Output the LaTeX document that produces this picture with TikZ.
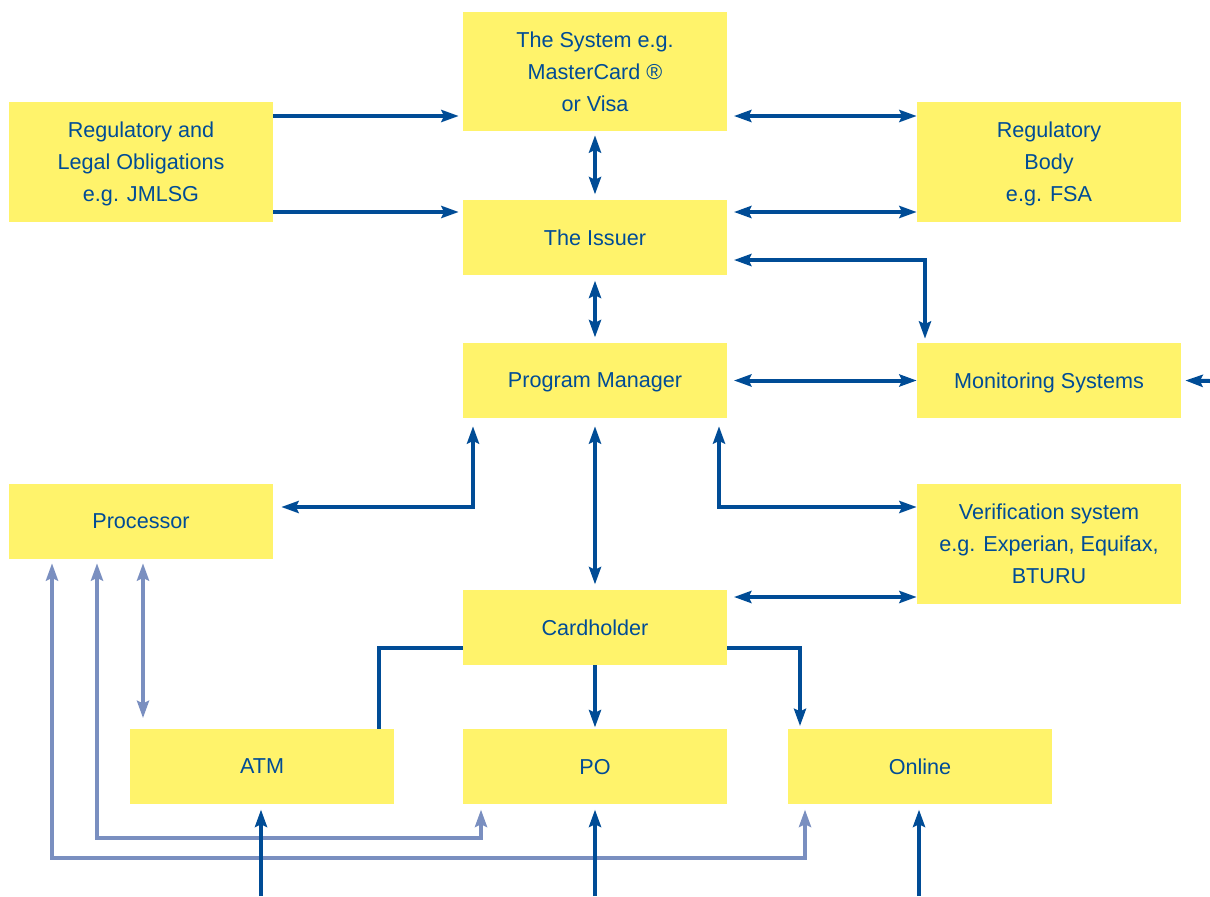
\documentclass[tikz,border=0pt]{standalone}
\usepackage{fontspec}
\setmainfont{Liberation Sans}
\usetikzlibrary{arrows.meta}
\definecolor{dblue}{RGB}{0,76,150}
\definecolor{lblue}{RGB}{122,143,192}
\definecolor{ybox}{RGB}{255,243,107}
\begin{document}
\begin{tikzpicture}[x=0.75pt,y=-0.75pt,
  box/.style={fill=ybox,draw=none,text=dblue,align=center,inner sep=0pt,text depth=0pt,
    font=\fontsize{16.2pt}{24pt}\selectfont},
  ar/.style={draw=dblue,line width=3pt,-{Stealth[length=13pt,width=9pt,inset=2pt]}},
  dar/.style={draw=dblue,line width=3pt,{Stealth[length=13pt,width=9pt,inset=2pt]}-{Stealth[length=13pt,width=9pt,inset=2pt]}},
  ln/.style={draw=dblue,line width=3pt},
  lar/.style={draw=lblue,line width=3pt,-{Stealth[length=13pt,width=9pt,inset=2pt]}},
  ldar/.style={draw=lblue,line width=3pt,{Stealth[length=13pt,width=9pt,inset=2pt]}-{Stealth[length=13pt,width=9pt,inset=2pt]}}]
\useasboundingbox (0,0) rectangle (1210,896);
% boxes
\node[box,minimum width=198pt,minimum height=89.25pt] (sys) at (595,71.5) {The System e.g.\\MasterCard \textregistered\\or Visa};
\node[box,minimum width=198pt,minimum height=90pt] (reg) at (141,162) {Regulatory and\\Legal Obligations\\e.g. JMLSG};
\node[box,minimum width=198pt,minimum height=90pt] (body) at (1049,162) {Regulatory\\Body\\e.g. FSA};
\node[box,minimum width=198pt,minimum height=56.25pt] (iss) at (595,237.5) {The Issuer};
\node[box,minimum width=198pt,minimum height=56.25pt] (pm) at (595,380.5) {Program Manager};
\node[box,minimum width=198pt,minimum height=56.25pt] (mon) at (1049,380.5) {Monitoring Systems};
\node[box,minimum width=198pt,minimum height=56.25pt] (proc) at (141,521.5) {Processor};
\node[box,minimum width=198pt,minimum height=90pt] (ver) at (1049,544) {Verification system\\e.g. Experian, Equifax,\\BTURU};
\node[box,minimum width=198pt,minimum height=56.25pt] (card) at (595,627.5) {Cardholder};
\node[box,minimum width=198pt,minimum height=56.25pt] (atm) at (262,766.5) {ATM};
\node[box,minimum width=198pt,minimum height=56.25pt] (po) at (595,766.5) {PO};
\node[box,minimum width=198pt,minimum height=56.25pt] (onl) at (920,766.5) {Online};
% free ends
\coordinate (monin) at (1210,381);
\coordinate (atmin) at (261,896);
\coordinate (poin) at (595,896);
\coordinate (onlin) at (919,896);
% connectors
\draw[ar] (reg.east |- 0,116) -- ([xshift=-3pt]sys.west |- 0,116);
\draw[ar] (reg.east |- 0,212) -- ([xshift=-3pt]iss.west |- 0,212);
\draw[dar] ([xshift=5pt]sys.east |- 0,116) -- (body.west |- 0,116);
\draw[dar] ([yshift=-3pt]sys.south) -- ([yshift=4pt]iss.north);
\draw[dar] ([xshift=5pt]iss.east |- 0,212) -- (body.west |- 0,212);
\draw[dar] ([xshift=5pt]iss.east |- 0,260) -- (925,260) -- ([yshift=3pt]mon.north -| 925,0);
\draw[dar] ([yshift=-4pt]iss.south) -- ([yshift=4pt]pm.north);
\draw[dar] ([xshift=5pt]pm.east) -- (mon.west);
\draw[ar] (monin) -- ([xshift=3pt]mon.east);
\draw[dar] ([yshift=-6pt]pm.south -| 473,0) -- (473,507) -- ([xshift=6pt]proc.east |- 0,507);
\draw[dar] ([yshift=-6pt]pm.south -| 719,0) -- (719,507) -- (ver.west |- 0,507);
\draw[dar] ([yshift=-6pt]pm.south) -- ([yshift=4pt]card.north);
\draw[dar] ([xshift=5pt]card.east |- 0,597) -- (ver.west |- 0,597);
\draw[ln] (card.west |- 0,648) -- (379,648) -- (379,729);
\draw[ar] (card.south) -- ([yshift=1pt]po.north);
\draw[ar] (card.east |- 0,648) -- (800,648) -- ([yshift=2pt]onl.north -| 800,0);
\draw[ldar] ([yshift=-3pt]proc.south -| 143,0) -- ([yshift=8pt]atm.north -| 143,0);
\draw[lar] (481,838) -- (97,838) -- ([yshift=-3pt]proc.south -| 97,0);
\draw[lar] (97,838) -- (481,838) -- ([yshift=-4pt]po.south -| 481,0);
\draw[lar] (805,858) -- (52,858) -- ([yshift=-3pt]proc.south -| 52,0);
\draw[lar] (52,858) -- (805,858) -- ([yshift=-4pt]onl.south -| 805,0);
\draw[ar] (atmin) -- ([yshift=-4pt]atm.south -| atmin);
\draw[ar] (poin) -- ([yshift=-4pt]po.south);
\draw[ar] (onlin) -- ([yshift=-4pt]onl.south -| onlin);
\end{tikzpicture}
\end{document}
